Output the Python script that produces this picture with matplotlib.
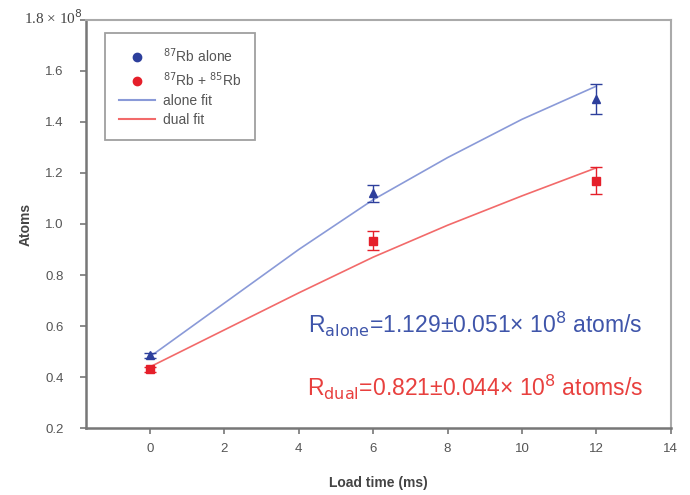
import matplotlib
matplotlib.use("Agg")
import matplotlib.pyplot as plt
from matplotlib.lines import Line2D

# measured points
load_time = [0, 6, 12]
alone_atoms = [0.485, 1.12, 1.49]
alone_err = [0.01, 0.033, 0.06]
dual_atoms = [0.43, 0.935, 1.17]
dual_err = [0.01, 0.037, 0.053]

# fit curves
fit_time = [0, 2, 4, 6, 8, 10, 12]
alone_fit = [0.48, 0.69, 0.90, 1.095, 1.26, 1.41, 1.54]
dual_fit = [0.44, 0.585, 0.73, 0.87, 0.995, 1.11, 1.22]

yticks = [0.2, 0.4, 0.6, 0.8, 1.0, 1.2, 1.4, 1.6, 1.8]
ytick_labels = ["0.2", "0.4", "0.6", "0.8", "1.0", "1.2", "1.4", "1.6", ""]
xticks = [0, 2, 4, 6, 8, 10, 12, 14]

blue = "#2d3f9c"
red = "#e51f2a"
blue_fit = "#8a9ad8"
red_fit = "#f26a6a"

plt.rcParams['font.family'] = ['Liberation Sans', 'DejaVu Sans']

fig = plt.figure(figsize=(6.9, 4.95), dpi=100)
ax = fig.add_axes([0.1246, 0.135, 0.972 - 0.1246, 0.96 - 0.135])

ax.plot(fit_time, alone_fit, color=blue_fit, lw=1.2)
ax.plot(fit_time, dual_fit, color=red_fit, lw=1.2)
ax.errorbar(load_time, alone_atoms, yerr=alone_err, fmt='^', color=blue,
            ms=6, capsize=4, elinewidth=1, capthick=1)
ax.errorbar(load_time, dual_atoms, yerr=dual_err, fmt='s', color=red,
            ms=6, capsize=4, elinewidth=1, capthick=1)

ax.set_xlim(-1.72, 14)
ax.set_ylim(0.2, 1.8)
ax.set_xticks(xticks)
ax.set_yticks(yticks)
ax.set_yticklabels(ytick_labels)
ax.tick_params(direction='out', length=4, width=1.2, color='#777777',
               labelcolor='#555555', labelsize=9.5)
ax.tick_params(axis='y', pad=12)
ax.tick_params(axis='x', pad=7)
for side in ['left', 'bottom']:
    ax.spines[side].set_color('#777777')
    ax.spines[side].set_linewidth(1.8)
for side in ['top', 'right']:
    ax.spines[side].set_color('#aaaaaa')
    ax.spines[side].set_linewidth(1.5)

ax.text(-0.005, 1.005, "1.8 \u00d7 10$^{8}$", transform=ax.transAxes, ha='right',
        va='center', fontsize=11, color='#444444', family='Liberation Serif')

ax.set_xlabel("Load time (ms)", fontsize=10, fontweight='bold', color='#444444', labelpad=15)
ax.set_ylabel("Atoms", fontsize=10, fontweight='bold', color='#444444', labelpad=9)

handles = [
    Line2D([], [], marker='o', ls='none', color=blue, ms=6),
    Line2D([], [], marker='o', ls='none', color=red, ms=6),
    Line2D([], [], color=blue_fit, lw=1.5),
    Line2D([], [], color=red_fit, lw=1.5),
]
labels = ["$^{87}$Rb alone", "$^{87}$Rb + $^{85}$Rb", "alone fit", "dual fit"]
leg = ax.legend(handles, labels, loc='upper left', bbox_to_anchor=(0.02, 0.985),
                fancybox=False, edgecolor='#888888', fontsize=10, handlelength=2.6,
                borderpad=1.0, labelspacing=0.35, handletextpad=0.6)
leg.get_frame().set_linewidth(1.3)
for t in leg.get_texts():
    t.set_color('#555555')

ax.text(8.75, 0.605, "R$_\\mathrm{alone}$=1.129\u00b10.051\u00d7 10$^{8}$ atom/s", color='#3f55aa',
        fontsize=16.5, ha='center', va='center')
ax.text(8.75, 0.36, "R$_\\mathrm{dual}$=0.821\u00b10.044\u00d7 10$^{8}$ atoms/s", color='#e8403e',
        fontsize=16.5, ha='center', va='center')

fig.savefig("out.png", dpi=100)
